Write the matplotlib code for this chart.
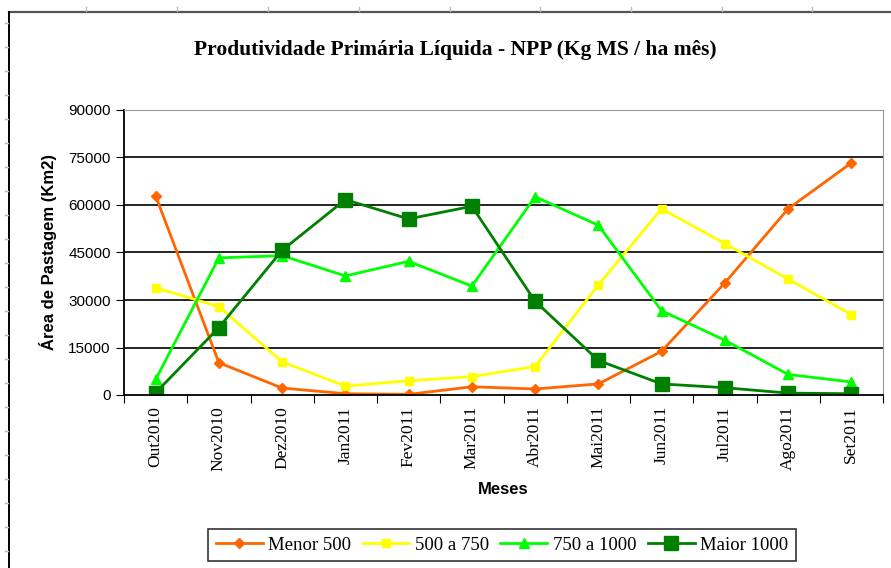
import matplotlib
matplotlib.use("Agg")
import matplotlib.pyplot as plt
from matplotlib.lines import Line2D
import numpy as np

# data
meses = ["Out2010", "Nov2010", "Dez2010", "Jan2011", "Fev2011", "Mar2011",
         "Abr2011", "Mai2011", "Jun2011", "Jul2011", "Ago2011", "Set2011"]
menor_500 = [62900, 10200, 2200, 400, 200, 2600, 1900, 3500, 13800, 35400, 58800, 73300]
de_500_a_750 = [33900, 27900, 10500, 2800, 4500, 5800, 9000, 34800, 58800, 47800, 36600, 25400]
de_750_a_1000 = [4900, 43300, 44000, 37600, 42200, 34400, 62600, 53600, 26600, 17300, 6500, 4100]
maior_1000 = [700, 21300, 45700, 61700, 55600, 59600, 29600, 10900, 3500, 2300, 600, 400]
yticks = [0, 15000, 30000, 45000, 60000, 75000, 90000]

W, H = 891, 568
fig = plt.figure(figsize=(W / 100, H / 100), dpi=100)
fig.patch.set_facecolor("white")

# outer chart frame and ruler marks
frame_c = "#555555"
fig.add_artist(Line2D([9 / W, 1], [1 - 12 / H, 1 - 12 / H], color=frame_c, lw=1.6))
fig.add_artist(Line2D([9 / W, 9 / W], [0, 1 - 12 / H], color="black", lw=1.4))
for x in [86, 177, 268, 359, 450, 540, 631, 722, 812]:
    fig.add_artist(Line2D([x / W, x / W], [1 - 7 / H, 1 - 11 / H], color="#bbbbbb", lw=1))
for y in range(23, H, 24):
    fig.add_artist(Line2D([5 / W, 8 / W], [1 - y / H, 1 - y / H], color="#bbbbbb", lw=1))

ax = fig.add_axes([124 / W, 1 - 395 / H, (883 - 124) / W, (395 - 110) / H])
x = np.arange(len(meses))

ax.plot(x, menor_500, color="#ff6600", lw=2, marker="D", ms=5, label="Menor 500")
ax.plot(x, de_500_a_750, color="#ffff00", lw=2, marker="s", ms=6, label="500 a 750")
ax.plot(x, de_750_a_1000, color="#00ff00", lw=2, marker="^", ms=7, label="750 a 1000")
ax.plot(x, maior_1000, color="#008000", lw=2, marker="s", ms=10, label="Maior 1000")

ax.set_xlim(-0.5, len(meses) - 0.5)
ax.set_ylim(0, 90000)
ax.set_yticks(yticks)
ax.set_yticklabels([str(v) for v in yticks], family="Liberation Sans", fontsize=11)
for v in yticks[1:]:
    ax.axhline(v, color="black", lw=1.2, zorder=0.5)

ax.set_xticks(np.arange(len(meses) + 1) - 0.5)
ax.set_xticklabels([])
ax.set_xticks(x, minor=True)
ax.set_xticklabels(meses, minor=True, rotation=90, family="Liberation Serif", fontsize=12.5)
ax.tick_params(axis="x", which="minor", length=0, pad=8)
ax.tick_params(axis="x", which="major", length=6, direction="out", color="black")
ax.tick_params(axis="y", length=6, direction="out", color="black")

ax.spines["left"].set_color("black")
ax.spines["bottom"].set_color("black")
ax.spines["left"].set_linewidth(1.3)
ax.spines["bottom"].set_linewidth(1.3)
ax.spines["top"].set_color("#999999")
ax.spines["right"].set_color("#999999")

ax.set_ylabel("Área de Pastagem (Km2)", family="Liberation Sans", fontweight="bold",
              fontsize=12, labelpad=8)
ax.set_xlabel("Meses", family="Liberation Sans", fontweight="bold", fontsize=12, labelpad=8)

fig.text(455 / W, 1 - 50 / H, "Produtividade Primária Líquida - NPP (Kg MS / ha mês)",
         ha="center", va="center", family="Liberation Serif", fontweight="bold", fontsize=15.5)

leg = fig.legend(loc="center", bbox_to_anchor=(502 / W, 1 - 545 / H), ncol=4,
                 prop={"family": "Liberation Serif", "size": 13.5}, frameon=True,
                 fancybox=False, edgecolor="black", handlelength=2.5, handletextpad=0.3,
                 columnspacing=0.6, borderpad=0.4)
leg.get_frame().set_linewidth(1.2)

fig.savefig("out.png", dpi=100, facecolor="white")
